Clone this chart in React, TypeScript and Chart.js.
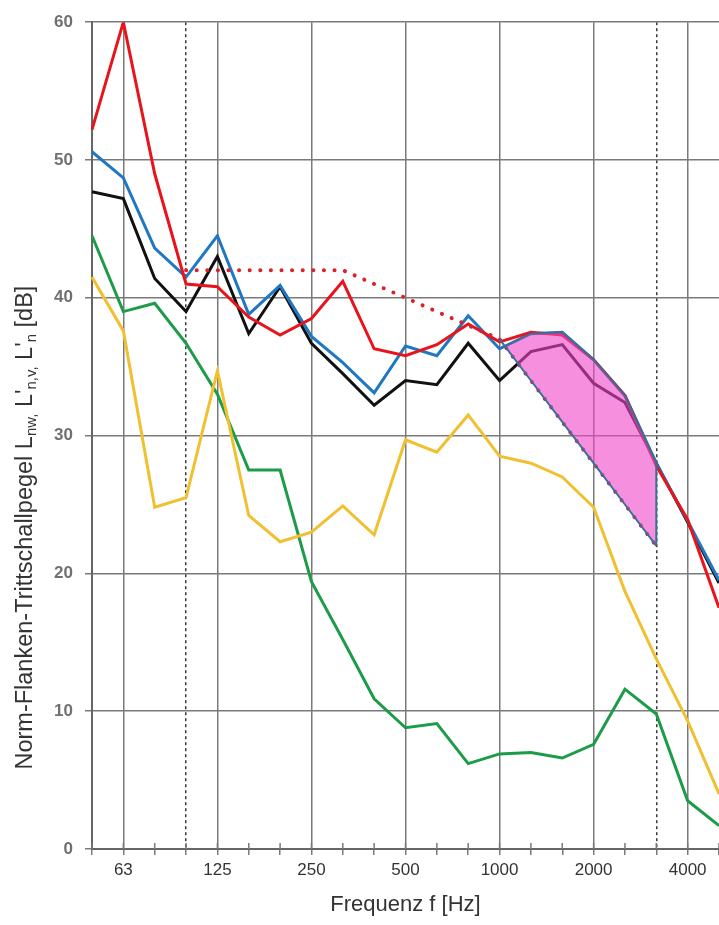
import React, { useEffect, useRef } from "react";
import { Chart, registerables } from "chart.js";

Chart.register(...registerables);

// Third-octave band centre frequencies [Hz]
const FREQS = [50, 63, 80, 100, 125, 160, 200, 250, 315, 400, 500, 630, 800, 1000, 1250, 1600, 2000, 2500, 3150, 4000, 5000];
const LABELED_FREQS = [63, 125, 250, 500, 1000, 2000, 4000];
const GRID_FREQS = [63, 125, 250, 500, 1000, 2000, 4000];
const DASHED_FREQS = [100, 3150];
const Y_MIN = 0;
const Y_MAX = 60;
const Y_STEP = 10;

// Series values [dB]
const RED = [52.2, 60, 49, 41, 40.8, 38.6, 37.3, 38.5, 41.2, 36.3, 35.8, 36.6, 38.1, 36.8, 37.5, 37.3, 35.5, 32.9, 27.8, 23.9, 17.5];
const BLUE = [50.6, 48.7, 43.6, 41.5, 44.5, 38.8, 40.9, 37.2, 35.3, 33.1, 36.5, 35.8, 38.7, 36.3, 37.4, 37.5, 35.5, 32.9, 28, 23.8, 19.5];
const BLACK = [47.7, 47.2, 41.4, 39, 43, 37.4, 40.8, 36.7, 34.5, 32.2, 34, 33.7, 36.7, 34, 36.1, 36.6, 33.8, 32.4, 28, 23.7, 19.3];
const YELLOW = [41.5, 37.6, 24.8, 25.5, 34.7, 24.2, 22.3, 23.0, 24.9, 22.8, 29.7, 28.8, 31.5, 28.5, 28.0, 27.0, 24.8, 18.7, 13.8, 9.3, 4.0];
const GREEN = [44.5, 39, 39.6, 36.7, 33, 27.5, 27.5, 19.4, 15.2, 10.9, 8.8, 9.1, 6.2, 6.9, 7.0, 6.6, 7.6, 11.6, 9.8, 3.5, 1.7];
// Shifted reference curve (100 - 3150 Hz)
const REFERENCE = [null, null, null, 42, 42, 42, 42, 42, 42, 41, 40, 39, 38, 37, 34, 31, 28, 25, 22, null, null];
// Frequency range of the highlighted unfavourable deviations
const DEVIATION_FROM = 1000;
const DEVIATION_TO = 3150;

const X_TITLE = "Frequenz f [Hz]";
const Y_TITLE_PARTS = [
  { t: "Norm-Flanken-Trittschallpegel L", sub: false },
  { t: "nw,", sub: true },
  { t: " L'", sub: false },
  { t: "n,v,", sub: true },
  { t: " L'", sub: false },
  { t: "n", sub: true },
  { t: " [dB]", sub: false },
];

const FONT = "'Liberation Sans', Arial, sans-serif";
const GRID_COLOR = "#7a7a7a";

export default function App() {
  const ref = useRef<HTMLCanvasElement | null>(null);

  useEffect(() => {
    const canvas = ref.current;
    if (!canvas) return;

    const iFrom = FREQS.indexOf(DEVIATION_FROM);
    const iTo = FREQS.indexOf(DEVIATION_TO);
    const inDev = (i: number) => i >= iFrom && i <= iTo;
    const devTop = BLUE.map((v, i) => (inDev(i) ? v : null));
    const devBottom = REFERENCE.map((v, i) => (inDev(i) ? v : null));
    const devEdge = [
      { x: String(DEVIATION_TO), y: REFERENCE[iTo] as number },
      { x: String(DEVIATION_TO), y: BLUE[iTo] },
    ];

    const extras = {
      id: "extras",
      afterDraw(chart: any) {
        const c = chart.ctx;
        const xs = chart.scales.x;
        const area = chart.chartArea;
        c.save();
        // tick marks above the frequency axis
        c.strokeStyle = GRID_COLOR;
        c.lineWidth = 1.5;
        FREQS.forEach((_, i) => {
          const px = xs.getPixelForValue(i);
          c.beginPath();
          c.moveTo(px, area.bottom - 6);
          c.lineTo(px, area.bottom);
          c.stroke();
        });
        // y title with subscripts
        const big = `23.5px ${FONT}`;
        const small = `15px ${FONT}`;
        let total = 0;
        Y_TITLE_PARTS.forEach((p) => {
          c.font = p.sub ? small : big;
          total += c.measureText(p.t).width;
        });
        c.translate(32, (area.top + area.bottom) / 2 + 92);
        c.rotate(-Math.PI / 2);
        c.fillStyle = "#333";
        c.textBaseline = "alphabetic";
        c.textAlign = "left";
        let x = -total / 2;
        Y_TITLE_PARTS.forEach((p) => {
          c.font = p.sub ? small : big;
          c.fillText(p.t, x, p.sub ? 4 : 0);
          x += c.measureText(p.t).width;
        });
        c.restore();
      },
    };

    const line = (data: any[], color: string, width: number, order: number, extra: any = {}) => ({
      data,
      borderColor: color,
      backgroundColor: color,
      borderWidth: width,
      pointRadius: 0,
      tension: 0,
      fill: false,
      order,
      ...extra,
    });

    const chart = new Chart(canvas, {
      type: "line",
      data: {
        labels: FREQS.map(String),
        datasets: [
          line(devTop, "#3a6e9e", 2, 1, {
            fill: { target: 1, above: "rgba(240, 70, 200, 0.6)", below: "rgba(0,0,0,0)" },
          }),
          line(devBottom, "#3a6e9e", 2, 0),
          line(devEdge, "#3a6e9e", 2, 0),
          line(REFERENCE, "#d8232a", 4, 2, { borderDash: [0.1, 10.5], borderCapStyle: "round" }),
          line(RED, "#e8141c", 3, 3),
          line(BLUE, "#1f78c1", 3, 4),
          line(BLACK, "#111111", 3, 5),
          line(YELLOW, "#f0c030", 3, 6),
          line(GREEN, "#1c9c48", 3, 7),
        ],
      },
      options: {
        animation: false,
        responsive: false,
        devicePixelRatio: 1,
        layout: { padding: { top: 17, right: 0, left: 0, bottom: 0 } },
        plugins: { legend: { display: false }, tooltip: { enabled: false } },
        scales: {
          x: {
            type: "category",
            offset: false,
            grid: {
              offset: false,
              color: (ctx: any) => {
                const f = FREQS[ctx.index];
                if (DASHED_FREQS.includes(f)) return "#3a3a3a";
                if (GRID_FREQS.includes(f)) return GRID_COLOR;
                return "rgba(0,0,0,0)";
              },
              lineWidth: 1.5,
              tickLength: 6,
              tickColor: GRID_COLOR,
              tickWidth: 1.5,
            },
            border: {
              display: true,
              color: "#666",
              width: 2,
              dash: (ctx: any) => (ctx && DASHED_FREQS.includes(FREQS[ctx.index]) ? [3, 3] : []),
            },
            ticks: {
              autoSkip: false,
              maxRotation: 0,
              minRotation: 0,
              padding: 5,
              color: "#333",
              font: { family: FONT, size: 17 },
              callback: (_v: any, i: number) => (LABELED_FREQS.includes(FREQS[i]) ? String(FREQS[i]) : ""),
            },
            title: {
              display: true,
              text: X_TITLE,
              color: "#333",
              font: { family: FONT, size: 22 },
              padding: { top: 0, bottom: 7 },
            },
            afterFit: (s: any) => {
              s.height = 76;
              s.paddingRight = 0;
              s.paddingLeft = 0;
            },
          },
          y: {
            min: Y_MIN,
            max: Y_MAX,
            ticks: {
              stepSize: Y_STEP,
              padding: 12,
              color: "#707070",
              font: { family: FONT, size: 17, weight: "bold" },
            },
            grid: { color: GRID_COLOR, lineWidth: 1.5, tickLength: 7 },
            border: { color: "#666", width: 2 },
            afterFit: (s: any) => {
              s.width = 92;
            },
          },
        },
      } as any,
      plugins: [extras],
    });

    return () => chart.destroy();
  }, []);

  return (
    <div style={{ position: "absolute", left: 0, top: 0, width: 719, height: 925, background: "#fff" }}>
      <canvas ref={ref} width={719} height={925} style={{ display: "block" }} />
    </div>
  );
}
